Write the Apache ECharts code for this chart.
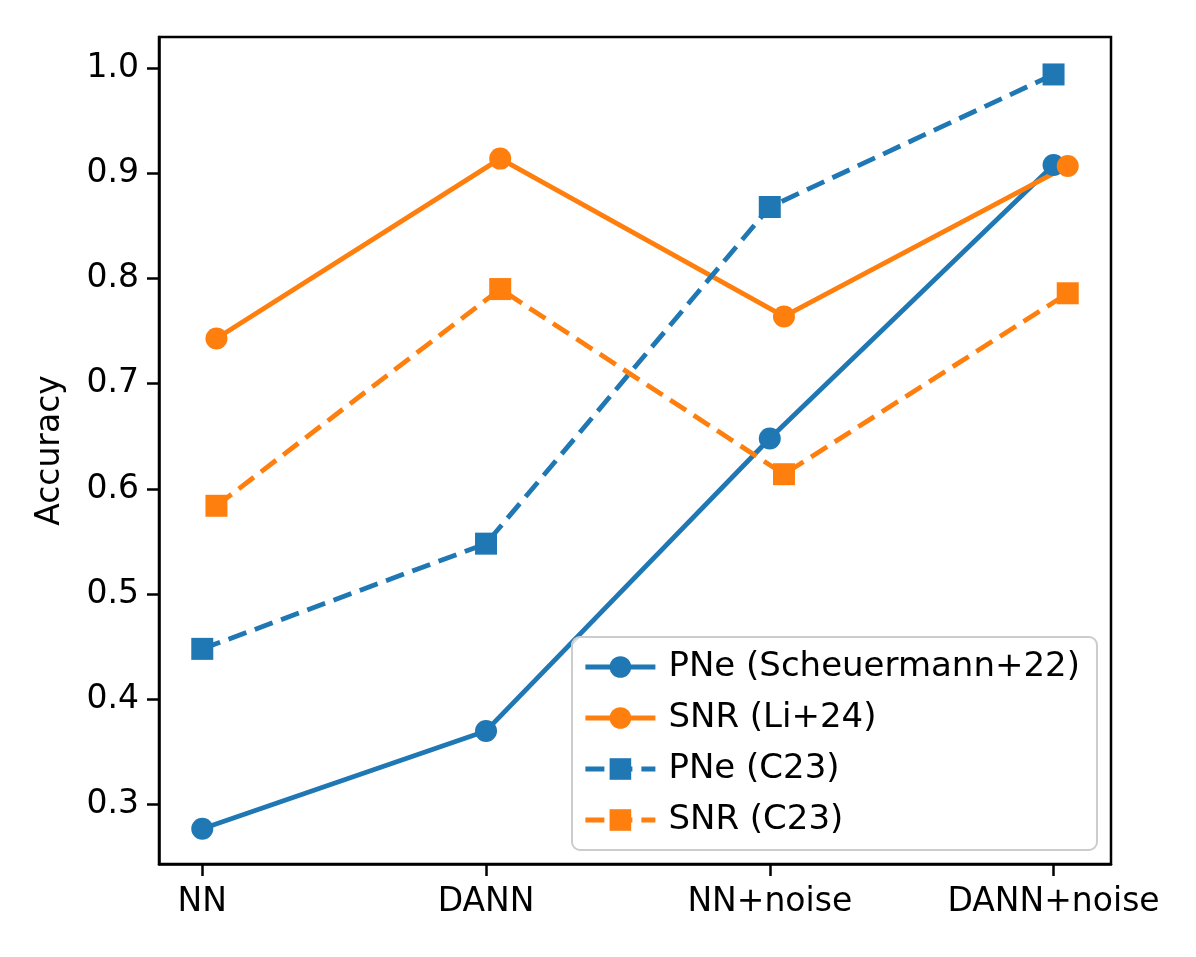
<!DOCTYPE html>
<html>
<head>
<meta charset="utf-8">
<script src="https://cdn.jsdelivr.net/npm/echarts@6/dist/echarts.min.js"></script>
<style>
html,body{margin:0;padding:0;background:#fff;}
#chart{width:1196px;height:957px;}
</style>
</head>
<body>
<div id="chart"></div>
<script>
// ---- data ----
const categories = ['NN', 'DANN', 'NN+noise', 'DANN+noise'];
const pneScheuermann = [0.277, 0.370, 0.648, 0.908];
const snrLi = [0.743, 0.914, 0.764, 0.907];
const pneC23 = [0.448, 0.548, 0.868, 0.994];
const snrC23 = [0.584, 0.790, 0.614, 0.786];
const yTicks = [0.3, 0.4, 0.5, 0.6, 0.7, 0.8, 0.9, 1.0];
const xTicks = [0, 1, 2, 3];
const snrShift = 0.05; // SNR points are plotted slightly to the right

const BLUE = '#1f77b4', ORANGE = '#ff7f0e';
const FONT = 'DejaVu Sans';
const FS = 33;

function pts(vals, shift) { return vals.map((v, i) => [i + shift, v]); }

function mkSeries(name, vals, shift, color, dashed, symbol) {
  return {
    name: name, type: 'line', data: pts(vals, shift),
    symbol: symbol, symbolSize: 22,
    showSymbol: true, animation: false,
    lineStyle: { color: color, width: 4.8, type: dashed ? [19, 9] : 'solid', cap: 'butt' },
    itemStyle: { color: color, borderWidth: 0 },
    emphasis: { disabled: true }
  };
}

const chart = echarts.init(document.getElementById('chart'), null, { renderer: 'canvas' });
chart.setOption({
  backgroundColor: '#ffffff',
  animation: false,
  grid: { left: 159, right: 85, top: 37, bottom: 93, show: true, borderColor: '#000', borderWidth: 2.5, backgroundColor: 'transparent' },
  xAxis: {
    type: 'value', min: -0.1525, max: 3.2025,
    splitLine: { show: false },
    axisLine: { show: true, lineStyle: { color: '#000', width: 2.5 } },
    axisTick: { show: true, customValues: xTicks, length: 12, lineStyle: { color: '#000', width: 2.5 } },
    axisLabel: { customValues: xTicks, formatter: v => categories[Math.round(v)], color: '#000', fontFamily: FONT, fontSize: FS, margin: 22 }
  },
  yAxis: {
    type: 'value', min: 0.2435, max: 1.0296,
    name: 'Accuracy', nameLocation: 'middle', nameRotate: 90, nameGap: 92,
    nameTextStyle: { color: '#000', fontFamily: FONT, fontSize: FS },
    splitLine: { show: false },
    axisLine: { show: true, onZero: false, lineStyle: { color: '#000', width: 2.5 } },
    axisTick: { show: true, customValues: yTicks, length: 12, lineStyle: { color: '#000', width: 2.5 } },
    axisLabel: { customValues: yTicks, formatter: v => v.toFixed(1), color: '#000', fontFamily: FONT, fontSize: FS, margin: 20 }
  },
  legend: {
    orient: 'vertical', left: 572, top: 637,
    padding: [13, 17, 13, 11],
    itemWidth: 70, itemHeight: 27, itemGap: 17,
    backgroundColor: 'rgba(255,255,255,0.8)', borderColor: '#cccccc', borderWidth: 2, borderRadius: 8,
    lineStyle: { width: 4.8 },
    textStyle: { color: '#000', fontFamily: FONT, fontSize: 34, padding: [0, 0, 0, 8] },
    data: ['PNe (Scheuermann+22)', 'SNR (Li+24)', 'PNe (C23)', 'SNR (C23)']
  },
  series: [
    mkSeries('PNe (Scheuermann+22)', pneScheuermann, 0, BLUE, false, 'circle'),
    mkSeries('SNR (Li+24)', snrLi, snrShift, ORANGE, false, 'circle'),
    mkSeries('PNe (C23)', pneC23, 0, BLUE, true, 'rect'),
    mkSeries('SNR (C23)', snrC23, snrShift, ORANGE, true, 'rect')
  ]
});
</script>
</body>
</html>
